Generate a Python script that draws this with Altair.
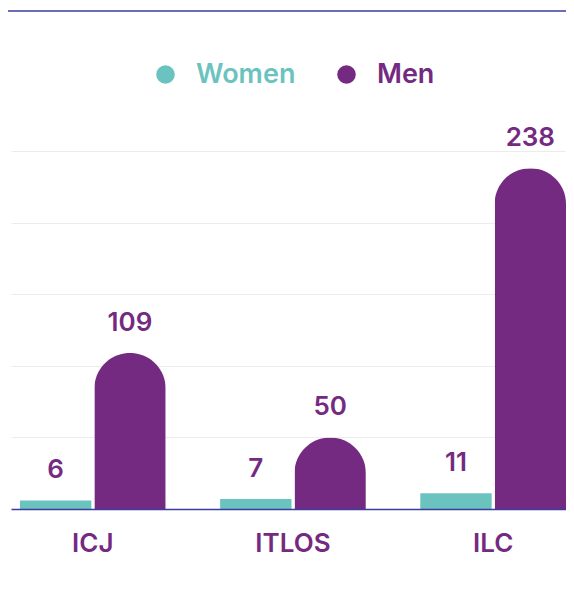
import altair as alt
import pandas as pd

# ---- data ----
courts = ["ICJ", "ITLOS", "ILC"]
genders = ["Women", "Men"]
women = [6, 7, 11]
men = [109, 50, 238]

rows = []
for c, w, m in zip(courts, women, men):
    rows.append({"court": c, "gender": "Women", "count": w})
    rows.append({"court": c, "gender": "Men", "count": m})
df = pd.DataFrame(rows)

PURPLE = "#752a81"
TEAL = "#6bc3c0"
AXIS = "#3a3e9c"
GRID = "#ececec"
FONT = "Inter"

W, H = 555, 358

x = alt.X(
    "court:N", sort=courts, title=None,
    scale=alt.Scale(paddingInner=0.272, paddingOuter=0.0224, align=1),
    axis=alt.Axis(labelFontSize=26, labelFontWeight=600, labelColor=PURPLE,
                  labelFont=FONT, labelPadding=34, labelBaseline="middle",
                  ticks=False, domainColor=AXIS, domainWidth=1.5,
                  labelAngle=0, zindex=1),
)
xo = alt.XOffset("gender:N", sort=genders,
                 scale=alt.Scale(domain=genders, paddingInner=0.04))
y = alt.Y(
    "count:Q", title=None,
    scale=alt.Scale(domain=[0, 250], nice=False),
    axis=alt.Axis(values=[0, 50, 100, 150, 200, 250], labels=False,
                  ticks=False, domain=False, gridColor=GRID, gridWidth=1),
)

base = alt.Chart(df)


def leg(color, lx):
    return alt.Legend(title=None, orient="none", legendX=lx, legendY=-90,
                      symbolType="circle", symbolSize=346, symbolStrokeWidth=0,
                      labelFontSize=27, labelFont=FONT, labelFontWeight=600,
                      labelColor=color, labelOffset=17)


women_bars = base.transform_filter(alt.datum.gender == "Women").mark_bar().encode(
    x=x, xOffset=xo, y=y,
    fill=alt.Fill("gender:N", scale=alt.Scale(domain=["Women"], range=[TEAL]),
                  legend=leg(TEAL, 141)),
)
men_bars = base.transform_filter(alt.datum.gender == "Men").mark_bar(
    cornerRadiusTopLeft=36, cornerRadiusTopRight=36
).encode(
    x=x, xOffset=xo, y=y,
    fill=alt.Fill("gender:N", scale=alt.Scale(domain=["Men"], range=[PURPLE]),
                  legend=leg(PURPLE, 322)),
)
labels = base.mark_text(dy=-30, fontSize=26, fontWeight=600, font=FONT,
                        color=PURPLE, baseline="middle").encode(
    x=x, xOffset=xo, y=y, text="count:Q"
)
top_rule = alt.Chart(pd.DataFrame({"k": [0]})).mark_rule(
    color=AXIS, strokeWidth=1.5
).encode(x=alt.value(-4), x2=alt.value(W), y=alt.value(-140))

chart = (
    alt.layer(women_bars, men_bars, labels, top_rule)
    .resolve_scale(fill="independent")
    .resolve_legend(fill="independent")
    .properties(width=W, height=H,
                padding={"left": 3, "top": 143, "right": 0, "bottom": 60},
                autosize=alt.AutoSizeParams(type="none"))
    .configure_view(stroke=None)
)

chart.save("out.html", embed_options={"renderer": "svg", "actions": False})
